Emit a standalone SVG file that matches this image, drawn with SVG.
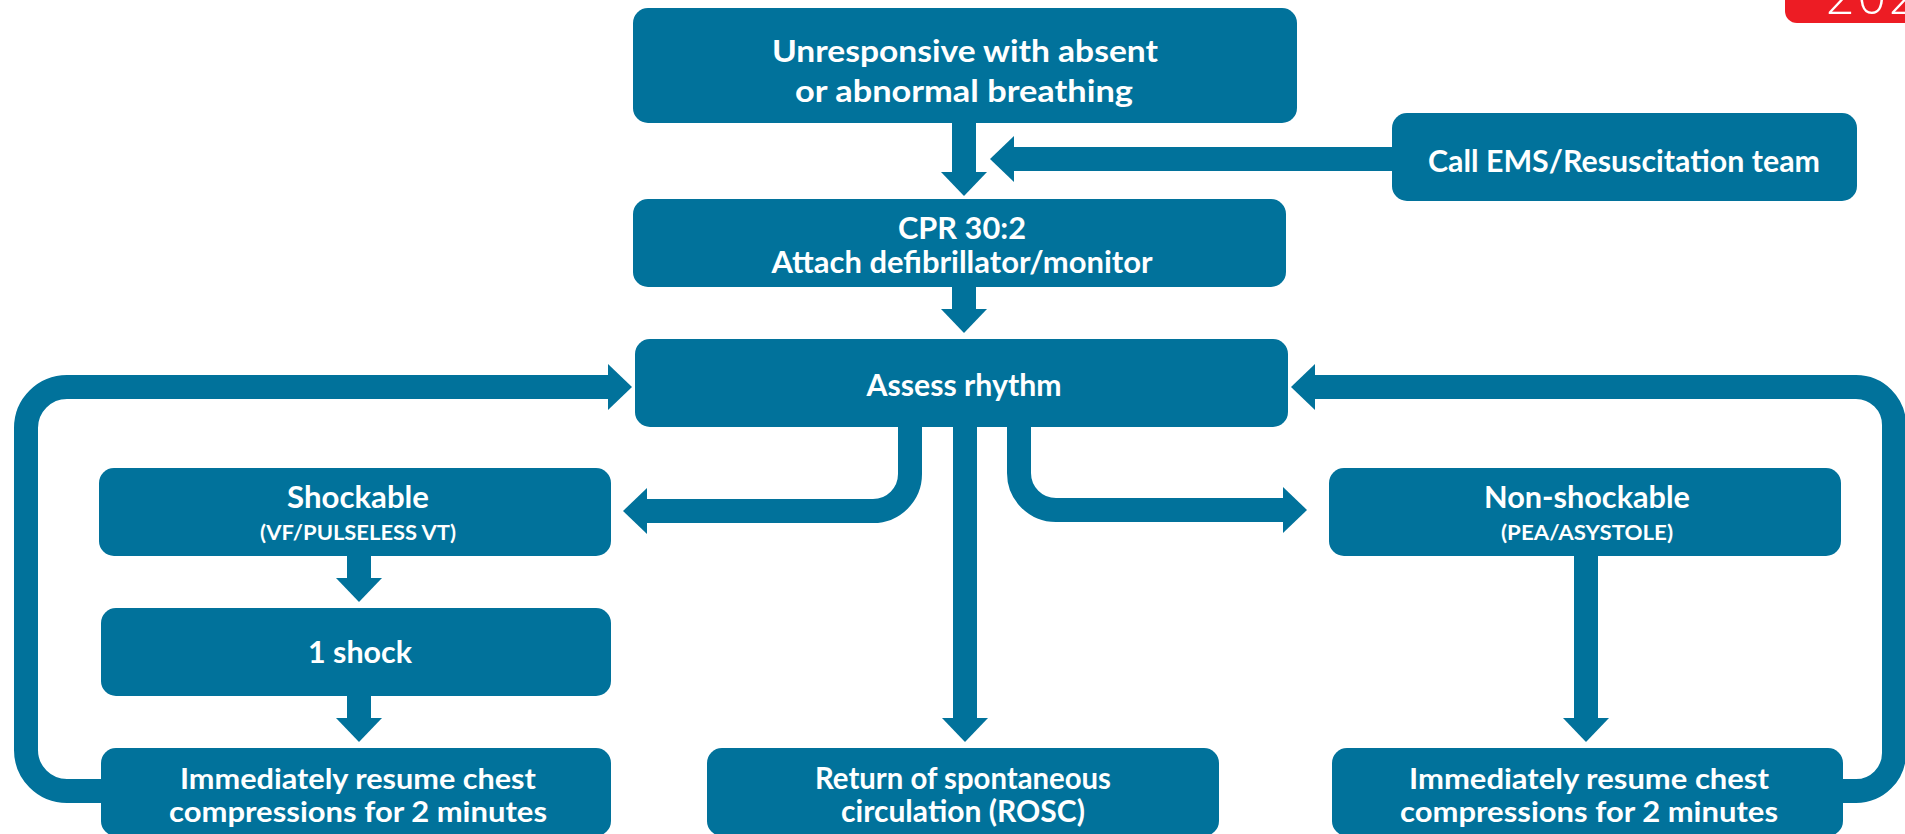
<svg xmlns="http://www.w3.org/2000/svg" width="1905" height="834" viewBox="0 0 1905 834">
<style>
.box{fill:#01729b}
.t{font-family:Lato,"Open Sans","Liberation Sans",sans-serif;font-weight:700;fill:#fff;text-anchor:middle}
.m{font-size:30px}
.r{font-size:28px}
.s{font-size:21px}
.c{fill:none;stroke:#01729b;stroke-width:24;stroke-linejoin:round}
</style>
<defs>
<marker id="ah" markerUnits="userSpaceOnUse" markerWidth="24" markerHeight="46" viewBox="0 0 24 46" refX="0" refY="23" orient="auto">
<path d="M0,0 L24,23 L0,46 Z" fill="#01729b"/>
</marker>
</defs>
<rect width="1905" height="834" fill="#fff"/>
<g id="badge">
<rect x="1785" y="-15" width="140" height="38" rx="12" fill="#ED1C24"/>
<text x="1826" y="14" font-family="'Open Sans','Liberation Sans',sans-serif" font-weight="300" font-size="50" letter-spacing="3" fill="#fff">202</text>
</g>
<g id="connectors">
<path class="c" d="M964,120 V172" marker-end="url(#ah)"/>
<path class="c" d="M1395,159 H1014" marker-end="url(#ah)"/>
<path class="c" d="M964,284 V309" marker-end="url(#ah)"/>
<path class="c" d="M104,791 H67 A41,41 0 0 1 26,750 V428 A41,41 0 0 1 67,387 H608" marker-end="url(#ah)"/>
<path class="c" d="M1840,791 H1856 A38,38 0 0 0 1894,753 V425 A38,38 0 0 0 1856,387 H1315" marker-end="url(#ah)"/>
<path class="c" d="M910,424 V474 A37,37 0 0 1 873,511 H647" marker-end="url(#ah)"/>
<path class="c" d="M965,424 V718" marker-end="url(#ah)"/>
<path class="c" d="M1019,424 V473 A37,37 0 0 0 1056,510 H1283" marker-end="url(#ah)"/>
<path class="c" d="M359,553 V578" marker-end="url(#ah)"/>
<path class="c" d="M359,693 V718" marker-end="url(#ah)"/>
<path class="c" d="M1586,553 V718" marker-end="url(#ah)"/>
</g>
<g id="n-unresponsive">
<rect class="box" x="633" y="8" width="664" height="115" rx="15"/>
<text class="t m" x="965" y="62" textLength="386" lengthAdjust="spacingAndGlyphs">Unresponsive with absent</text>
<text class="t m" x="964" y="102" textLength="338" lengthAdjust="spacingAndGlyphs">or abnormal breathing</text>
</g>
<g id="n-ems">
<rect class="box" x="1392" y="113" width="465" height="88" rx="15"/>
<text class="t m" x="1624" y="172" textLength="392" lengthAdjust="spacingAndGlyphs">Call EMS/Resuscitation team</text>
</g>
<g id="n-cpr">
<rect class="box" x="633" y="199" width="653" height="88" rx="15"/>
<text class="t m" x="962" y="239" textLength="128" lengthAdjust="spacingAndGlyphs">CPR 30:2</text>
<text class="t m" x="962" y="273" textLength="381" lengthAdjust="spacingAndGlyphs">Attach defibrillator/monitor</text>
</g>
<g id="n-assess">
<rect class="box" x="635" y="339" width="653" height="88" rx="15"/>
<text class="t m" x="964" y="396" textLength="195" lengthAdjust="spacingAndGlyphs">Assess rhythm</text>
</g>
<g id="n-shockable">
<rect class="box" x="99" y="468" width="512" height="88" rx="15"/>
<text class="t m" x="358" y="508" textLength="142" lengthAdjust="spacingAndGlyphs">Shockable</text>
<text class="t s" x="358" y="540" textLength="196" lengthAdjust="spacingAndGlyphs">(VF/PULSELESS VT)</text>
</g>
<g id="n-shock">
<rect class="box" x="101" y="608" width="510" height="88" rx="15"/>
<text class="t m" x="360" y="663" textLength="104" lengthAdjust="spacingAndGlyphs">1 shock</text>
</g>
<g id="n-resume-left">
<rect class="box" x="101" y="748" width="510" height="88" rx="15"/>
<text class="t r" x="358" y="789" textLength="356" lengthAdjust="spacingAndGlyphs">Immediately resume chest</text>
<text class="t r" x="358" y="822" textLength="378" lengthAdjust="spacingAndGlyphs">compressions for 2 minutes</text>
</g>
<g id="n-rosc">
<rect class="box" x="707" y="748" width="512" height="88" rx="15"/>
<text class="t m" x="963" y="789" textLength="296" lengthAdjust="spacingAndGlyphs">Return of spontaneous</text>
<text class="t m" x="963" y="822" textLength="244" lengthAdjust="spacingAndGlyphs">circulation (ROSC)</text>
</g>
<g id="n-nonshockable">
<rect class="box" x="1329" y="468" width="512" height="88" rx="15"/>
<text class="t m" x="1587" y="508" textLength="206" lengthAdjust="spacingAndGlyphs">Non-shockable</text>
<text class="t s" x="1587" y="540" textLength="172" lengthAdjust="spacingAndGlyphs">(PEA/ASYSTOLE)</text>
</g>
<g id="n-resume-right">
<rect class="box" x="1332" y="748" width="511" height="88" rx="15"/>
<text class="t r" x="1589" y="789" textLength="360" lengthAdjust="spacingAndGlyphs">Immediately resume chest</text>
<text class="t r" x="1589" y="822" textLength="378" lengthAdjust="spacingAndGlyphs">compressions for 2 minutes</text>
</g>
</svg>
